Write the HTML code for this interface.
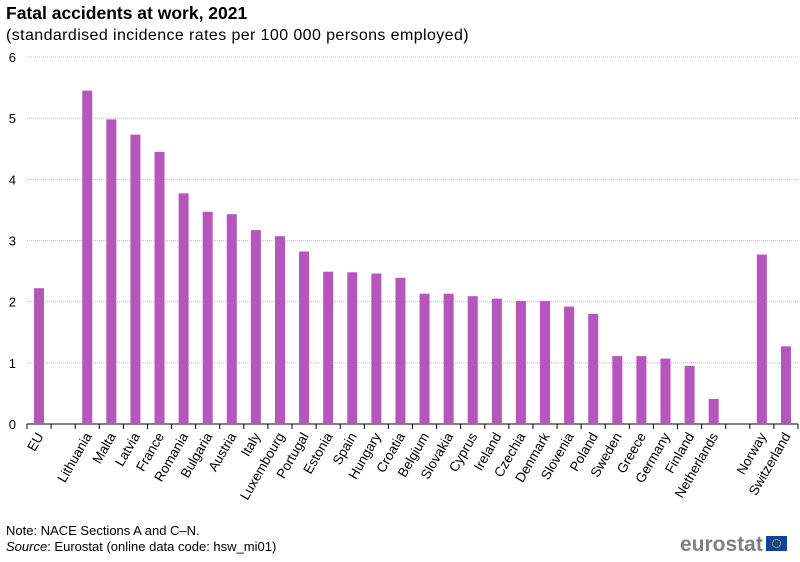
<!DOCTYPE html>
<html><head><meta charset="utf-8"><style>
body{margin:0;background:#fff;font-family:"Liberation Sans",Arial,sans-serif}
svg text{font-family:"Liberation Sans",Arial,sans-serif}
</style></head><body>
<svg width="800" height="557" xmlns="http://www.w3.org/2000/svg">
<text x="6" y="19" font-size="17.5" font-weight="bold" fill="#000">Fatal accidents at work, 2021</text>
<text x="6" y="40" font-size="16" letter-spacing="0.4" fill="#000">(standardised incidence rates per 100 000 persons employed)</text>
<g id="grid"></g><g id="bars"></g><g id="xlabels"></g>
<text x="6" y="535" font-size="13" fill="#000">Note: NACE Sections A and C–N.</text>
<text x="6" y="551" font-size="13" fill="#000"><tspan font-style="italic">Source</tspan>: Eurostat (online data code: hsw_mi01)</text>
<g>
<text x="680" y="551" font-size="21" font-weight="bold" fill="#7f7f7f">eurostat</text>
<rect x="766" y="536" width="21" height="15" fill="#10449b"/>
<circle cx="776.5" cy="543.5" r="4" fill="none" stroke="#f5d000" stroke-width="1.3" stroke-dasharray="1 1.1"/>
</g>
</svg>
<script>
const categories=["EU","","Lithuania","Malta","Latvia","France","Romania","Bulgaria","Austria","Italy","Luxembourg","Portugal","Estonia","Spain","Hungary","Croatia","Belgium","Slovakia","Cyprus","Ireland","Czechia","Denmark","Slovenia","Poland","Sweden","Greece","Germany","Finland","Netherlands","","Norway","Switzerland"];
const values=[2.22,null,5.45,4.98,4.73,4.45,3.77,3.47,3.43,3.17,3.07,2.82,2.49,2.48,2.46,2.39,2.13,2.13,2.09,2.05,2.01,2.01,1.92,1.80,1.11,1.11,1.07,0.95,0.41,null,2.77,1.27];
const yTicks=[0,1,2,3,4,5,6];
const NS="http://www.w3.org/2000/svg";
const x0=27,x1=798,y0=424,yTop=57,yMax=6;
const step=(x1-x0)/categories.length;
const y=v=>y0-(v/yMax)*(y0-yTop);
const xc=i=>x0+(i+0.5)*step;
function mk(t,a,p){const e=document.createElementNS(NS,t);for(const k in a)e.setAttribute(k,a[k]);p.appendChild(e);return e;}
const grid=document.getElementById('grid'),bars=document.getElementById('bars'),xl=document.getElementById('xlabels');
yTicks.forEach(t=>{
  if(t>0){const l=mk('line',{x1:x0,x2:x1,y1:y(t),y2:y(t),stroke:'#b0b0b0','stroke-width':0.8,'stroke-dasharray':'1 1'},grid);
  
  }
  const tx=mk('text',{x:16,y:y(t)+5,'font-size':13,'text-anchor':'end',fill:'#000'},grid);tx.textContent=t;
  
  
});
const ax=mk('line',{x1:x0,x2:x1,y1:y0,y2:y0,stroke:'#000','stroke-width':1},grid);


for(let i=0;i<=categories.length;i++){mk('line',{x1:x0+i*step,x2:x0+i*step,y1:y0,y2:y0+5,stroke:'#000','stroke-width':1},grid);}
categories.forEach((c,i)=>{
  if(values[i]!=null){
    const r=mk('rect',{x:xc(i)-5,y:y(values[i]),width:10,height:y0-y(values[i]),fill:'#b656bd'},bars);
    
    
  }
  if(c){
    const t=mk('text',{x:0,y:0,'font-size':13.5,'text-anchor':'end',fill:'#000',transform:`translate(${xc(i)+5},${y0+12}) rotate(-60)`},xl);
    t.textContent=c;
    
    
  }
});
</script>
</body></html>
